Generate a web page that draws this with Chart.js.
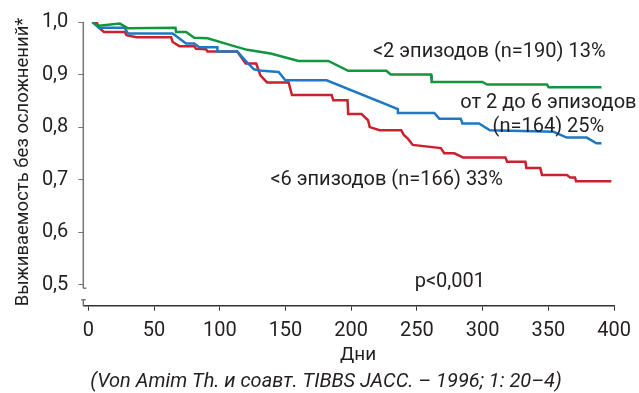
<!DOCTYPE html>
<html>
<head>
<meta charset="utf-8">
<script src="https://cdn.jsdelivr.net/npm/chart.js@4"></script>
<style>
  html, body { margin: 0; padding: 0; background: #fff; }
  #wrap { width: 639px; height: 393px; position: relative; }
</style>
</head>
<body>
<div id="wrap"><canvas id="kmChart" width="639" height="393"></canvas></div>
<script>
// Kaplan-Meier curves: [day, survival]
const lowGroup = [[3, 1.0], [8.1, 0.993], [24, 0.997], [30.2, 0.988], [66.3, 0.989], [66.8, 0.981], [74.4, 0.981],
  [80.6, 0.970], [90.7, 0.969], [109.6, 0.955], [120.9, 0.947], [138.6, 0.940], [160, 0.926], [182.6, 0.926],
  [197.7, 0.907], [226.7, 0.907], [230, 0.900], [260.7, 0.900], [261.2, 0.886], [299.7, 0.886], [303.5, 0.881],
  [348.9, 0.881], [350.1, 0.876], [390.4, 0.876]];
const midGroup = [[3, 1.0], [8.1, 0.989], [27.7, 0.989], [30.2, 0.978], [64.2, 0.978], [74.4, 0.959], [80.6, 0.959],
  [84.4, 0.952], [98.2, 0.952], [98.2, 0.944], [113.3, 0.944], [119.7, 0.926], [126, 0.910], [132.2, 0.907],
  [144.8, 0.905], [149.9, 0.889], [181.3, 0.889], [235.5, 0.834], [235.5, 0.827], [263.2, 0.827], [267, 0.816],
  [283.3, 0.816], [284.6, 0.807], [297.2, 0.807], [305.5, 0.794], [353.9, 0.791], [363.9, 0.780], [379.1, 0.780],
  [386.6, 0.769], [390.4, 0.769]];
const highGroup = [[3.3, 1.0], [6.3, 1.0], [8.1, 0.989], [11.9, 0.981], [27.7, 0.981], [29, 0.975], [36.6, 0.971],
  [63, 0.971], [64.2, 0.962], [69.3, 0.954], [80.6, 0.954], [81.9, 0.949], [89.5, 0.948], [90.7, 0.944],
  [113.3, 0.944], [119.7, 0.921], [127.7, 0.921], [131, 0.898], [136, 0.885], [152.4, 0.885], [154.9, 0.861],
  [185.1, 0.861], [186.4, 0.851], [197.2, 0.851], [197.7, 0.825], [207.8, 0.825], [212.8, 0.813], [214.1, 0.800],
  [221.7, 0.794], [238, 0.794], [240, 0.785], [243.1, 0.778], [246.8, 0.766], [268.2, 0.760], [270.8, 0.750],
  [278.4, 0.750], [285.2, 0.742], [317.3, 0.742], [318.6, 0.734], [332.5, 0.734], [333.2, 0.722], [343.8, 0.722],
  [345.1, 0.709], [364, 0.709], [366.5, 0.704], [370.2, 0.704], [371, 0.697], [397.9, 0.697]];

const xTicks = [0, 50, 100, 150, 200, 250, 300, 350, 400];
const yTicks = [0.5, 0.6, 0.7, 0.8, 0.9, 1.0];

// labels placed in data coordinates
const notes = [
  { text: '<2 эпизодов (n=190) 13%', x: 305, y: 0.942 },
  { text: 'от 2 до 6 эпизодов', x: 350, y: 0.846 },
  { text: '(n=164) 25%', x: 350, y: 0.800 },
  { text: '<6 эпизодов (n=166) 33%', x: 227, y: 0.700 },
  { text: 'p<0,001', x: 275, y: 0.505 }
];

const FONT = 'Roboto, "DejaVu Sans", sans-serif';
const toPts = arr => arr.map(p => ({ x: p[0], y: p[1] }));

const textPlugin = {
  id: 'texts',
  afterDraw(chart) {
    const ctx = chart.ctx, xs = chart.scales.x, ys = chart.scales.y;
    ctx.save();
    ctx.fillStyle = '#231f20';
    ctx.textAlign = 'center';
    ctx.textBaseline = 'middle';
    ctx.font = '20px ' + FONT;
    notes.forEach(n => ctx.fillText(n.text, xs.getPixelForValue(n.x), ys.getPixelForValue(n.y)));

    // broken y axis
    const left = xs.left;
    const yBreak = ys.getPixelForValue(0.5) + 3.5;
    ctx.strokeStyle = '#777';
    ctx.lineWidth = 1.5;
    ctx.beginPath();
    ctx.moveTo(left, ys.top);
    ctx.lineTo(left, yBreak);
    ctx.moveTo(left, yBreak);
    ctx.lineTo(left + 3, yBreak);
    ctx.moveTo(left - 2, yBreak + 11.5);
    ctx.lineTo(left + 2.5, yBreak + 11.5);
    ctx.moveTo(left, yBreak + 11.5);
    ctx.lineTo(left, ys.bottom);
    ctx.stroke();

    // axis titles and source line
    ctx.fillStyle = '#231f20';
    ctx.font = '19px ' + FONT;
    ctx.fillText('Дни', 358, 355);
    ctx.font = 'italic 20px ' + FONT;
    ctx.fillText('(Von Amim Th. и соавт. TIBBS JACC. – 1996; 1: 20–4)', 326, 382);
    ctx.translate(23, 162);
    ctx.rotate(-Math.PI / 2);
    ctx.font = '18.5px ' + FONT;
    ctx.fillText('Выживаемость без осложнений*', 0, 0);
    ctx.restore();
  }
};

document.addEventListener("DOMContentLoaded", function () {
  const line = (data, color) => ({
    data: toPts(data), borderColor: color, borderWidth: 2.5, pointRadius: 0,
    fill: false, tension: 0, borderJoinStyle: 'miter'
  });
  new Chart(document.getElementById('kmChart').getContext('2d'), {
    type: 'line',
    data: { datasets: [
      line(lowGroup, '#12953f'),
      line(midGroup, '#1f78c1'),
      line(highGroup, '#c9212e')
    ]},
    options: {
      responsive: false, animation: false,
      layout: { padding: { left: 0, right: 21, top: 19, bottom: 0 } },
      plugins: { legend: { display: false }, tooltip: { enabled: false } },
      scales: {
        x: {
          type: 'linear', min: -3.8, max: 400,
          afterBuildTicks: s => { s.ticks = xTicks.map(v => ({ value: v })); },
          afterFit: s => { s.height = 87.3; },
          grid: { drawOnChartArea: false, drawTicks: true, tickLength: 5, color: '#333' },
          border: { color: '#333', width: 1.5 },
          ticks: { color: '#231f20', font: { family: FONT, size: 20 }, padding: 8, maxRotation: 0 }
        },
        y: {
          min: 0.46, max: 1.0,
          afterBuildTicks: s => { s.ticks = yTicks.map(v => ({ value: v })); },
          afterFit: s => { s.width = 83.3; },
          grid: { drawOnChartArea: false, drawTicks: true, tickLength: 5, color: '#777' },
          border: { display: false },
          ticks: {
            color: '#231f20', font: { family: FONT, size: 20 }, padding: 10,
            callback: v => v.toFixed(1).replace('.', ',')
          }
        }
      }
    },
    plugins: [textPlugin]
  });
});
</script>
</body>
</html>
